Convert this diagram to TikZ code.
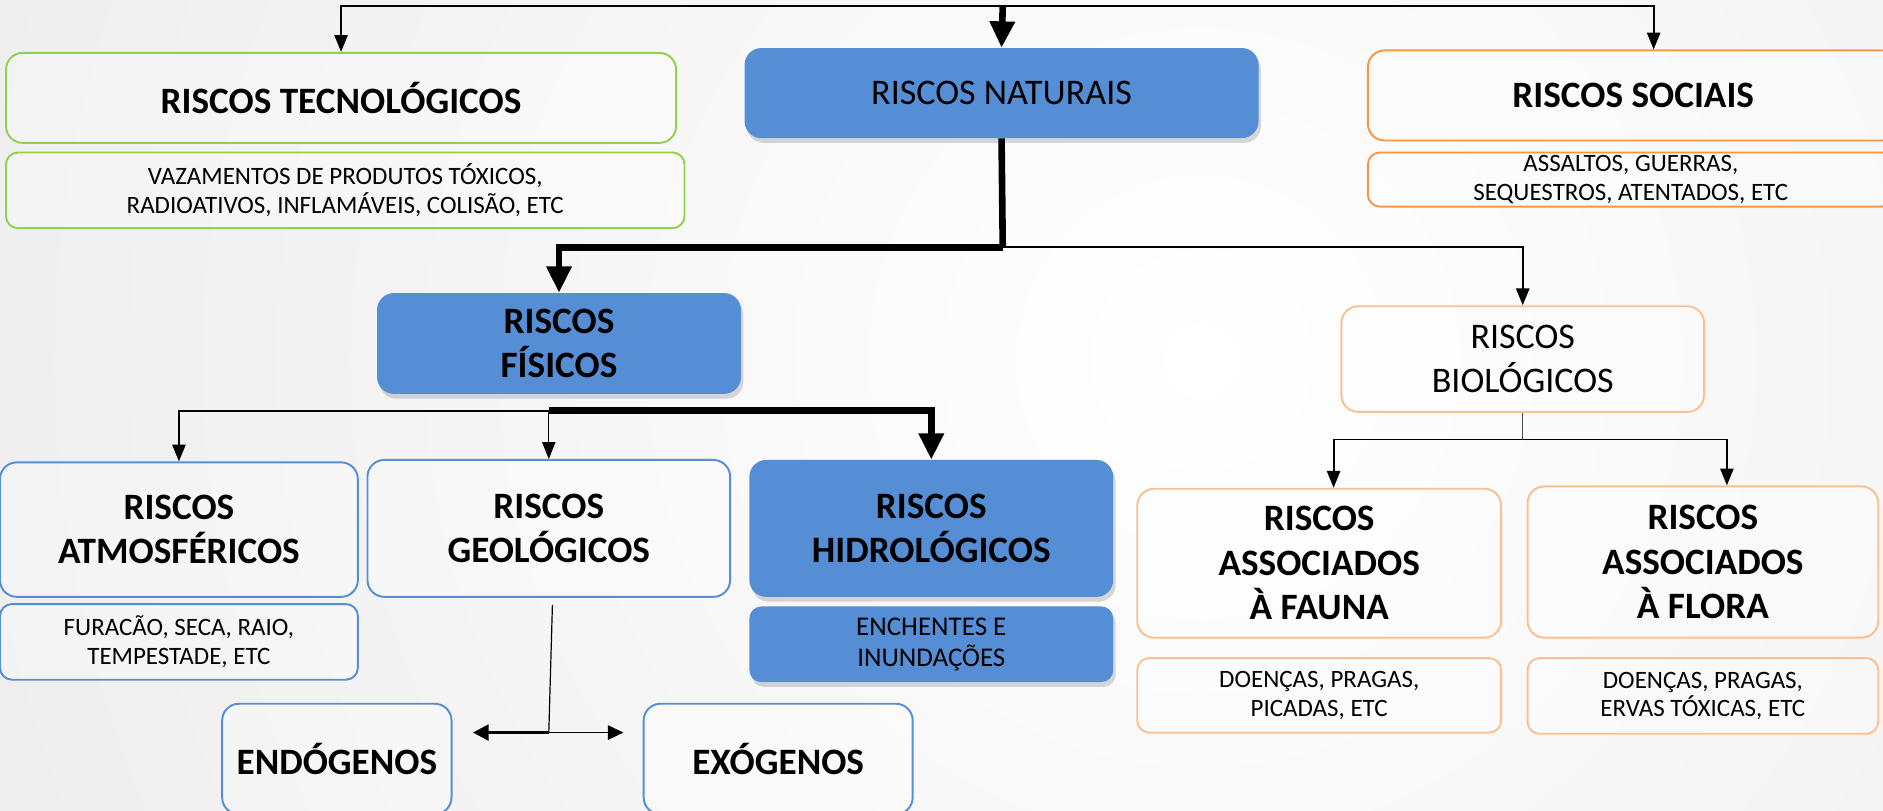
\documentclass[tikz,border=0pt]{standalone}
\usepackage{fontspec}
\setmainfont{Carlito}
\usetikzlibrary{arrows.meta,shadows}

\definecolor{riskblue}{HTML}{558ED5}
\definecolor{riskgreen}{HTML}{92D050}
\definecolor{riskorange}{HTML}{F79646}
\definecolor{risklight}{HTML}{FAC090}

\newcommand{\bigbold}{\fontsize{31}{37}\selectfont\bfseries}
\newcommand{\bignorm}{\fontsize{30}{37}\selectfont}
\newcommand{\smalltxt}{\fontsize{20.8}{24}\selectfont}
\newcommand{\midtxt}{\fontsize{22.5}{26}\selectfont}

\tikzset{
  every node/.style={align=center, inner sep=2pt},
  riskbox/.style={draw=#1, line width=1.6pt, fill=white, fill opacity=0.35, text opacity=1, rounded corners=14pt},
  subbox/.style={draw=#1, line width=1.6pt, fill=white, fill opacity=0.35, text opacity=1, rounded corners=10pt, font=\smalltxt},
  bluebox/.style={fill=riskblue, rounded corners=14pt, drop shadow={opacity=0.3, shadow xshift=2pt, shadow yshift=-4pt}},
  thinarrow/.style={line width=1.5pt, -{Triangle[length=14pt,width=11pt]}},
  thickarrow/.style={line width=5.5pt, -{Triangle[length=22pt,width=20pt]}},
}

\begin{document}
\begin{tikzpicture}[x=1pt, y=-1pt]
	\useasboundingbox (0,0) rectangle (1568,675);
	\clip (0,0) rectangle (1568,675);
	\shade[inner color=white, outer color=black!14] (1000,300) circle (2200);

	% Top level
	\node[bluebox, minimum width=428pt, minimum height=75pt, font=\bignorm] (naturais) at (834,77.5) {RISCOS NATURAIS};
	\node[riskbox=riskgreen, minimum width=558pt, minimum height=75pt, font=\bigbold] (tecno) at (284,81.5) {RISCOS TECNOLÓGICOS};
	\node[subbox=riskgreen, minimum width=565pt, minimum height=63pt] (tecnosub) at (287.5,158.5) {VAZAMENTOS DE PRODUTOS TÓXICOS,\\RADIOATIVOS, INFLAMÁVEIS, COLISÃO, ETC};
	\node[riskbox=riskorange, minimum width=442pt, minimum height=75pt, font=\bigbold] (sociais) at (1360,79.5) {RISCOS SOCIAIS};
	\node[subbox=riskorange, minimum width=438pt, minimum height=45pt, inner sep=0pt] (sociaissub) at (1358,149.5) {ASSALTOS, GUERRAS,\\SEQUESTROS, ATENTADOS, ETC};

	\coordinate (topbar) at (835,5);
	\draw[thickarrow] (topbar) -- (naturais.north);
	\draw[thinarrow] (topbar) -| (tecno.north);
	\draw[thinarrow] (topbar) -| ([xshift=17pt]sociais.north);

	% Fisicos and biologicos
	\node[bluebox, minimum width=303pt, minimum height=84pt, font=\bigbold] (fisicos) at (465.5,286) {RISCOS\\FÍSICOS};
	\node[riskbox=risklight, minimum width=302pt, minimum height=88pt, font=\bignorm] (biologicos) at (1268,299) {RISCOS\\BIOLÓGICOS};

	\coordinate (natfork) at (835,206);
	\draw[line width=5.5pt] (naturais.south) -- (natfork);
	\draw[thickarrow] (natfork) -| (fisicos.north);
	\draw[thinarrow] (natfork) -| (biologicos.north);

	% Physical risks
	\node[riskbox=riskblue, minimum width=298pt, minimum height=112pt, font=\bigbold] (atmos) at (149,441) {RISCOS\\ATMOSFÉRICOS};
	\node[subbox=riskblue, minimum width=298pt, minimum height=63pt] (atmossub) at (149,534.5) {FURACÃO, SECA, RAIO,\\TEMPESTADE, ETC};
	\node[riskbox=riskblue, minimum width=302pt, minimum height=114pt, font=\bigbold] (geo) at (457,440) {RISCOS\\GEOLÓGICOS};
	\node[bluebox, minimum width=303pt, minimum height=114pt, font=\bigbold] (hidro) at (775.5,440) {RISCOS\\HIDROLÓGICOS};
	\node[bluebox, rounded corners=10pt, minimum width=303pt, minimum height=63pt, font=\midtxt] (hidrosub) at (775.5,536.5) {ENCHENTES E\\INUNDAÇÕES};

	\coordinate (fisbar) at (457,342);
	\draw[thinarrow] (fisbar) -| (atmos.north);
	\draw[thinarrow, line width=1pt] (fisbar) -- (geo.north);
	\draw[thickarrow] (fisbar) -| (hidro.north);

	% Geological risks
	\node[riskbox=riskblue, minimum width=191pt, minimum height=92pt, font=\bigbold] (endo) at (280.5,632) {ENDÓGENOS};
	\node[riskbox=riskblue, minimum width=224pt, minimum height=92pt, font=\bigbold] (exo) at (648,632) {EXÓGENOS};

	\coordinate (geofork) at (457,610);
	\draw[line width=1pt] ([xshift=3pt,yshift=-6pt]geo.south) -- (geofork);
	\draw[line width=2.5pt, -{Triangle[length=13pt,width=13pt]}, shorten >=17pt] (geofork) -- (endo.east |- geofork);
	\draw[line width=1.2pt, -{Triangle[length=13pt,width=12pt]}, shorten >=16pt] (geofork) -- (exo.west |- geofork);

	% Biological risks
	\node[riskbox=risklight, minimum width=303pt, minimum height=124pt, font=\bigbold] (fauna) at (1098.5,469) {RISCOS\\ASSOCIADOS\\À FAUNA};
	\node[subbox=risklight, minimum width=303pt, minimum height=62pt] (faunasub) at (1098.5,579) {DOENÇAS, PRAGAS,\\PICADAS, ETC};
	\node[riskbox=risklight, minimum width=292pt, minimum height=126pt, font=\bigbold] (flora) at (1418,468) {RISCOS\\ASSOCIADOS\\À FLORA};
	\node[subbox=risklight, minimum width=292pt, minimum height=63pt] (florasub) at (1418,579.5) {DOENÇAS, PRAGAS,\\ERVAS TÓXICAS, ETC};

	\coordinate (biofork) at (1268,366);
	\draw[line width=1pt, black!70] (biologicos.south) -- (biofork);
	\draw[thinarrow] (biofork) -| ([xshift=12pt]fauna.north);
	\draw[thinarrow] (biofork) -| ([xshift=20pt]flora.north);
\end{tikzpicture}
\end{document}
